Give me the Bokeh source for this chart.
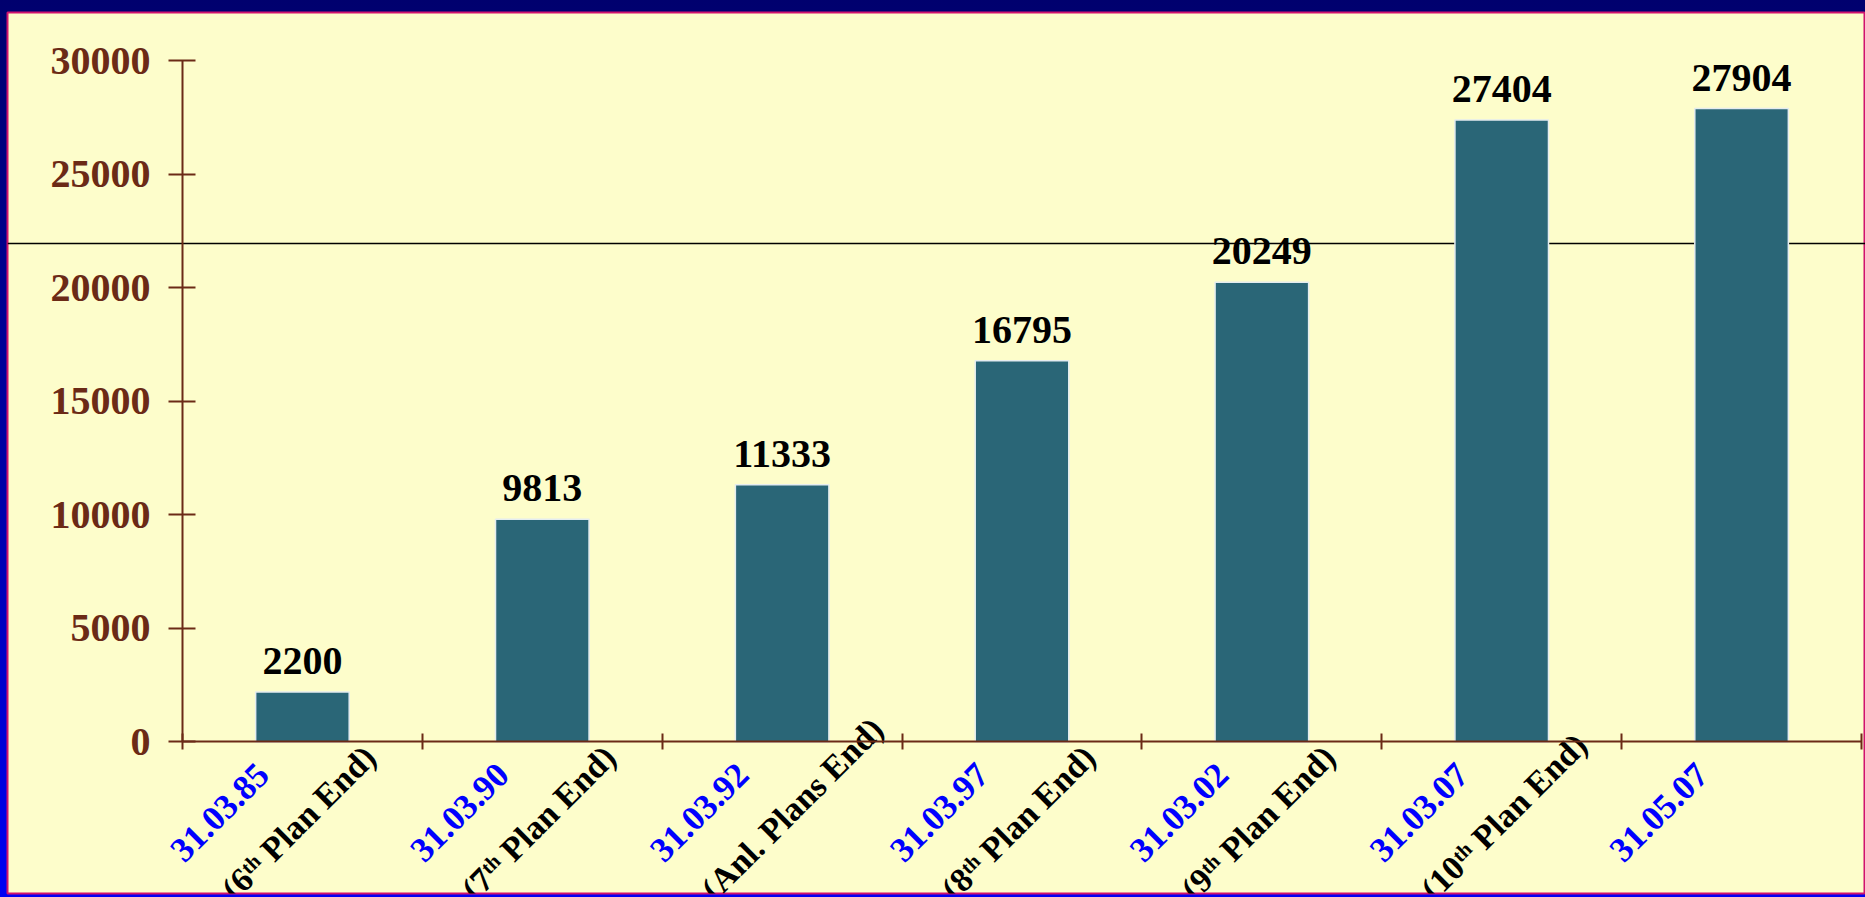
import numpy as np
from bokeh.plotting import figure
from bokeh.models import ColumnDataSource, LinearAxis, FixedTicker, Span, Range1d, Grid
from bokeh.core.properties import value
from bokeh.embed import file_html
from bokeh.resources import INLINE

# ---- data ----
dates = ["31.03.85", "31.03.90", "31.03.92", "31.03.97", "31.03.02", "31.03.07", "31.05.07"]
plans = ["(6ᵗʰ Plan End)", "(7ᵗʰ Plan End)", "(Anl. Plans End)", "(8ᵗʰ Plan End)",
         "(9ᵗʰ Plan End)", "(10ᵗʰ Plan End)", ""]
values = [2200, 9813, 11333, 16795, 20249, 27404, 27904]
y_ticks = [0, 5000, 10000, 15000, 20000, 25000, 30000]

FONT = "Liberation Serif"
BROWN = "#6B2A16"
BAR = "#2A6677"

n = len(values)
pos = np.arange(n) + 0.5
src = ColumnDataSource(dict(x=pos, top=values, label=[str(v) for v in values],
                            date=dates, plan=plans, base=[0] * n))

p = figure(width=1865, height=897, output_backend="svg", toolbar_location=None,
           x_range=Range1d(-0.7296, 7.0167), y_range=Range1d(-6674, 32136),
           x_axis_location=None, y_axis_location=None,
           min_border_left=7, min_border_right=0, min_border_top=12, min_border_bottom=4,
           background_fill_color="#FDFDCB", border_fill_alpha=0,
           outline_line_color="#D0126E", outline_line_width=2)
for g in p.select(type=Grid):
    g.visible = False

# decorative horizontal rule behind the bars
p.add_layout(Span(location=21960, dimension="width", line_color="#000000",
                  line_width=1.3, level="underlay"))

yaxis = LinearAxis(fixed_location=0, bounds=(0, 30000),
                   ticker=FixedTicker(ticks=y_ticks, minor_ticks=[]),
                   axis_line_color=BROWN, axis_line_width=2,
                   major_tick_line_color=BROWN, major_tick_line_width=2,
                   major_tick_in=13, major_tick_out=14, minor_tick_line_color=None,
                   major_label_standoff=18, major_label_text_font=FONT,
                   major_label_text_font_style="bold", major_label_text_font_size="40px",
                   major_label_text_color=BROWN)
p.add_layout(yaxis, "left")

bounds_ticks = list(range(n + 1))
xaxis = LinearAxis(fixed_location=0, bounds=(0, n),
                   ticker=FixedTicker(ticks=bounds_ticks, minor_ticks=[]),
                   axis_line_color=BROWN, axis_line_width=2,
                   major_tick_line_color=BROWN, major_tick_line_width=2,
                   major_tick_in=8, major_tick_out=8, minor_tick_line_color=None,
                   major_label_overrides={t: "" for t in bounds_ticks})
p.add_layout(xaxis, "below")

p.vbar(x="x", top="top", bottom=0, width=0.39, source=src,
       fill_color=BAR, line_color="#E4ECF0", line_width=1.5)

p.text(x="x", y="top", text="label", source=src, text_align="center",
       text_baseline="alphabetic", y_offset=-31, text_font=value(FONT),
       text_font_style="bold", text_font_size="40px", text_color="black")

p.text(x="x", y="base", text="date", source=src, angle=np.pi / 4,
       text_align="center", text_baseline="middle", x_offset=-83, y_offset=70,
       text_font=value(FONT), text_font_style="bold", text_font_size="35px",
       text_color="#0000FF")

p.text(x="x", y="base", text="plan", source=src, angle=np.pi / 4,
       text_align="left", text_baseline="middle", x_offset=-75, y_offset=152,
       text_font=value(FONT), text_font_style="bold", text_font_size="34px",
       text_color="black")

TEMPLATE = """{% block preamble %}<style>html, body {margin:0 !important; padding:0 !important; overflow:hidden;
background: linear-gradient(180deg, #00006E 0%, #0000A8 55%, #0000F4 100%);}</style>{% endblock %}"""

with open("out.html", "w", encoding="utf-8") as f:
    f.write(file_html(p, INLINE, template=TEMPLATE))
